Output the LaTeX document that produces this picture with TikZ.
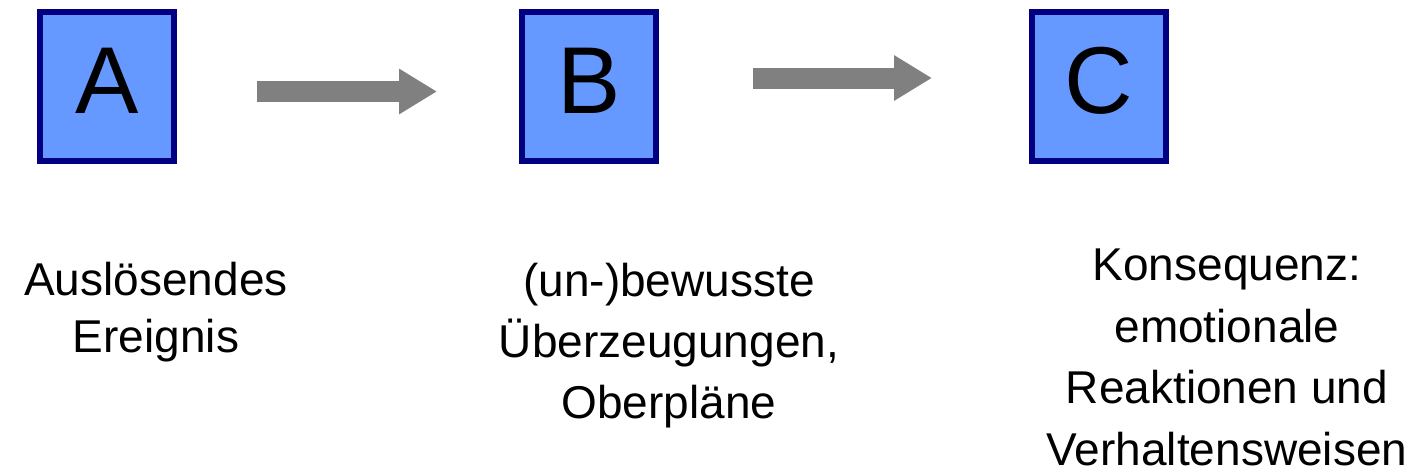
\documentclass[tikz,border=0pt]{standalone}
\usepackage{fontspec}
\setmainfont{Liberation Sans}
\usetikzlibrary{arrows.meta}
\definecolor{boxfill}{HTML}{6699FF}
\definecolor{boxline}{HTML}{000080}
\definecolor{flowgray}{HTML}{808080}
\begin{document}
\begin{tikzpicture}[x=1pt,y=-1pt,
  letterbox/.style={draw=boxline, fill=boxfill, line width=6pt,
    minimum width=134pt, minimum height=149pt, inner sep=0pt,
    text height=68pt, text depth=15pt,
    font=\fontsize{95}{95}\selectfont},
  caption/.style={align=center, anchor=base, inner sep=0pt},
  flow/.style={draw=flowgray, line width=21pt,
    -{Triangle[length=38pt,width=43pt]}}]
  \useasboundingbox (0,0) rectangle (1416,472);
  % the three stages
  \node[letterbox] (A) at (107,86.5) {A};
  \node[letterbox] (B) at (589,86.5) {B};
  \node[letterbox] (C) at (1099,86.5) {C};
  % arrow end points
  \coordinate (ab1) at (257,91.5);
  \coordinate (ab2) at (437,91.5);
  \coordinate (bc1) at (753,78);
  \coordinate (bc2) at (932,78);
  \draw[flow] (ab1) -- (ab2);
  \draw[flow] (bc1) -- (bc2);
  % captions (anchored at the baseline of their last line)
  \node[caption, font=\fontsize{46}{57}\selectfont] (tA) at (156,352)
    {Auslösendes\\Ereignis};
  \node[caption, font=\fontsize{46}{61}\selectfont] (tB) at (669,418)
    {(un-)bewusste\\Überzeugungen,\\Oberpläne};
  \node[caption, font=\fontsize{46}{61.5}\selectfont] (tC) at (1227,465)
    {Konsequenz:\\emotionale\\Reaktionen und\\Verhaltensweisen};
\end{tikzpicture}
\end{document}
